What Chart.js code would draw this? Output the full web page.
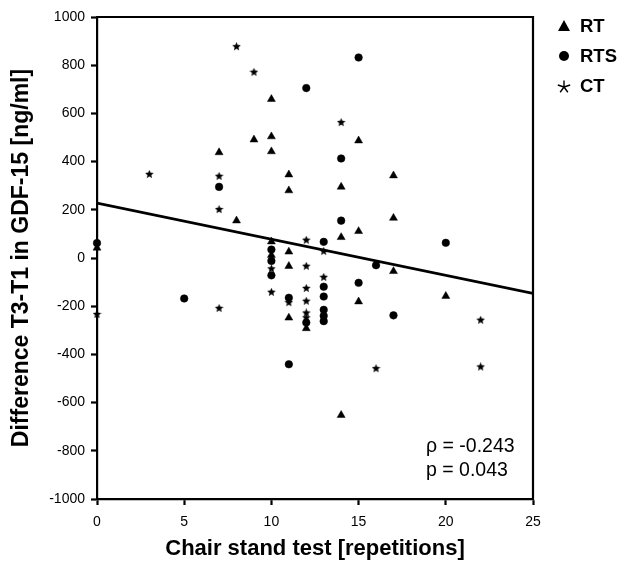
<!DOCTYPE html>
<html>
<head>
<meta charset="utf-8">
<script src="https://cdn.jsdelivr.net/npm/chart.js@4/dist/chart.umd.min.js"></script>
<style>
  html, body { margin: 0; padding: 0; background: #fff; }
  #wrap { width: 635px; height: 565px; position: relative; }
</style>
</head>
<body>
<div id="wrap"><canvas id="chart"></canvas></div>
<script>
(() => {
  'use strict';

  // RT group
  const rtX = [0, 7, 8, 9, 10, 10, 10, 10, 10, 11, 11, 11, 11, 11, 12, 14, 14, 14, 15, 15, 15, 17, 17, 17, 20];
  const rtY = [42, 438, 155, 491, 659, 504, 442, 68, 12, 346, 280, 26, -34, -248, -292, 295, 86, -652, 487, 111, -181, 342, 166, -55, -158];

  // RTS group
  const rtsX = [0, 5, 7, 10, 10, 10, 11, 11, 12, 12, 13, 13, 13, 13, 13, 13, 14, 14, 15, 15, 16, 17, 20];
  const rtsY = [62, -168, 295, 35, -12, -72, -165, -441, 705, -268, 67, -119, -160, -215, -240, -262, 413, 155, 832, -103, -30, -238, 63];

  // CT group
  const ctX = [0, 3, 7, 7, 7, 8, 9, 10, 10, 11, 12, 12, 12, 12, 12, 12, 13, 13, 14, 16, 22, 22];
  const ctY = [-234, 347, 339, 201, -209, 877, 771, -45, -142, -185, 74, -34, -126, -179, -228, -248, 28, -80, 562, -459, -258, -452];

  // regression line end points
  const fitX = [0, 25];
  const fitY = [228, -147];

  const groupLabels = ['RT', 'RTS', 'CT'];
  const statLines = ['\u03c1 = -0.243', 'p = 0.043'];

  const xTicks = [0, 5, 10, 15, 20, 25];
  const yTicks = [-1000, -800, -600, -400, -200, 0, 200, 400, 600, 800, 1000];

  const toPoints = (xs, ys) => xs.map((x, i) => ({ x: x, y: ys[i] }));

  // filled star used as marker
  const makeStar = (size) => {
    const c = document.createElement('canvas');
    c.width = size; c.height = size;
    const g = c.getContext('2d');
    const r = size / 2, ir = r * 0.45;
    g.beginPath();
    for (let i = 0; i < 10; i++) {
      const a = -Math.PI / 2 + i * Math.PI / 5;
      const rr = i % 2 ? ir : r;
      g.lineTo(r + rr * Math.cos(a), r + rr * Math.sin(a));
    }
    g.closePath();
    g.fillStyle = '#000';
    g.fill();
    return c;
  };
  const starImg = makeStar(9);

  const font = "'Liberation Sans', Arial, sans-serif";

  // top / right frame, legend and stats text
  const extras = {
    id: 'extras',
    afterDraw(chart) {
      const ctx = chart.ctx;
      const a = chart.chartArea;
      ctx.save();
      ctx.strokeStyle = '#000';
      ctx.lineWidth = 2.2;
      ctx.beginPath();
      ctx.moveTo(a.left - 1, a.top);
      ctx.lineTo(a.right, a.top);
      ctx.lineTo(a.right, a.bottom + 1);
      ctx.stroke();

      // legend
      const lx = 564, ly = [26, 56, 86];
      ctx.fillStyle = '#000';
      // triangle
      ctx.beginPath();
      ctx.moveTo(lx, ly[0] - 6);
      ctx.lineTo(lx + 6, ly[0] + 5);
      ctx.lineTo(lx - 6, ly[0] + 5);
      ctx.closePath();
      ctx.fill();
      // circle
      ctx.beginPath();
      ctx.arc(lx, ly[1], 5, 0, Math.PI * 2);
      ctx.fill();
      // thin star
      ctx.lineWidth = 1.4;
      ctx.beginPath();
      for (let i = 0; i < 5; i++) {
        const ang = -Math.PI / 2 + i * 2 * Math.PI / 5;
        ctx.moveTo(lx, ly[2] + 1);
        ctx.lineTo(lx + 6.5 * Math.cos(ang), ly[2] + 1 + 6.5 * Math.sin(ang));
      }
      ctx.stroke();

      ctx.font = 'bold 18.5px ' + font;
      ctx.textBaseline = 'middle';
      ctx.textAlign = 'left';
      groupLabels.forEach((t, i) => ctx.fillText(t, 580, ly[i] + 1));

      ctx.font = '19.5px ' + font;
      ctx.textBaseline = 'alphabetic';
      ctx.fillText(statLines[0], 426, 452);
      ctx.fillText(statLines[1], 426, 476);
      ctx.restore();
    }
  };

  new Chart(document.getElementById('chart'), {
    type: 'scatter',
    data: {
      datasets: [
        {
          label: groupLabels[0],
          data: toPoints(rtX, rtY),
          pointStyle: 'triangle',
          pointRadius: 4.6,
          backgroundColor: '#000',
          borderColor: '#000',
          borderWidth: 0.5,
          clip: false
        },
        {
          label: groupLabels[1],
          data: toPoints(rtsX, rtsY),
          pointStyle: 'circle',
          pointRadius: 3.8,
          backgroundColor: '#000',
          borderColor: '#000',
          borderWidth: 0.5,
          clip: false
        },
        {
          label: groupLabels[2],
          data: toPoints(ctX, ctY),
          pointStyle: starImg,
          pointRadius: 4,
          backgroundColor: '#000',
          borderColor: '#000',
          clip: false
        },
        {
          type: 'line',
          label: 'fit',
          data: toPoints(fitX, fitY),
          borderColor: '#000',
          borderWidth: 2.6,
          pointRadius: 0,
          fill: false
        }
      ]
    },
    options: {
      responsive: true,
      maintainAspectRatio: false,
      animation: false,
      layout: { padding: { top: 17, right: 102, left: 0, bottom: 0 } },
      plugins: {
        legend: { display: false },
        tooltip: { enabled: false }
      },
      scales: {
        x: {
          type: 'linear',
          min: 0,
          max: 25,
          afterBuildTicks: (s) => { s.ticks = xTicks.map(v => ({ value: v })); },
          afterFit: (s) => { s.height = 66; },
          border: { display: true, color: '#000', width: 2.2 },
          grid: { display: true, drawOnChartArea: false, drawTicks: true, tickLength: 6, tickWidth: 2.2, tickColor: '#000' },
          ticks: { color: '#000', font: { family: font, size: 14 }, padding: 9, maxRotation: 0, callback: (v) => String(v) },
          title: {
            display: true,
            text: 'Chair stand test [repetitions]',
            color: '#000',
            font: { family: font, size: 22, weight: 'bold' },
            padding: { top: 0, bottom: 3 }
          }
        },
        y: {
          type: 'linear',
          min: -1000,
          max: 1000,
          afterBuildTicks: (s) => { s.ticks = yTicks.map(v => ({ value: v })); },
          afterFit: (s) => { s.width = 97; },
          border: { display: true, color: '#000', width: 2.2 },
          grid: { display: true, drawOnChartArea: false, drawTicks: true, tickLength: 6, tickWidth: 2.2, tickColor: '#000' },
          ticks: { color: '#000', font: { family: font, size: 14 }, padding: 6, callback: (v) => String(v) },
          title: {
            display: true,
            text: 'Difference T3-T1 in GDF-15 [ng/ml]',
            color: '#000',
            font: { family: font, size: 23, weight: 'bold' },
            padding: { top: 8, bottom: 0 }
          }
        }
      }
    },
    plugins: [extras]
  });
})();
</script>
</body>
</html>
